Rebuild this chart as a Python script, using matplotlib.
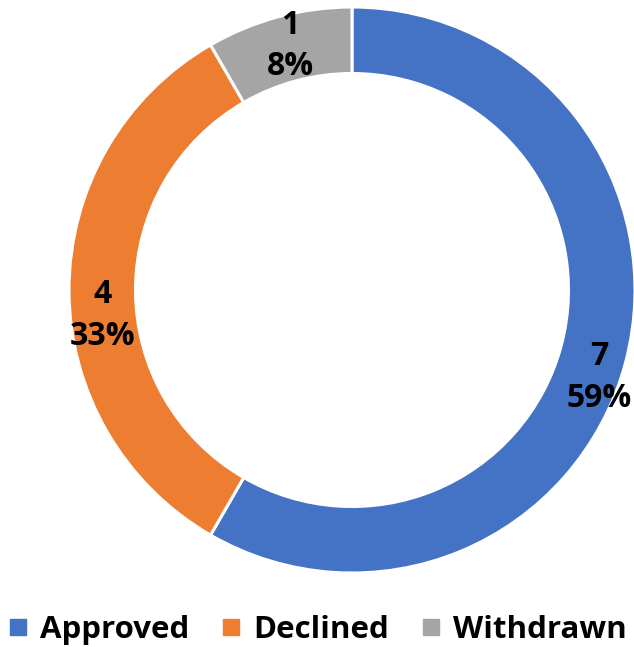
import matplotlib.pyplot as plt
from matplotlib.lines import Line2D
import numpy as np

# data
categories = ["Approved", "Declined", "Withdrawn"]
counts = [7, 4, 1]
pct_labels = ["59%", "33%", "8%"]
colors = ["#4472C4", "#ED7D31", "#A5A5A5"]

W, H = 634, 647
fig = plt.figure(figsize=(W / 100, H / 100), dpi=100)

# pie center ~ (352, 290) px, outer radius ~283 px
cx, cy, R = 352, 290, 283
ax = fig.add_axes([(cx - R) / W, (H - cy - R) / H, 2 * R / W, 2 * R / H])

ring = 0.235
wedges, _ = ax.pie(counts, colors=colors, startangle=90, counterclock=False,
                   radius=1.0,
                   wedgeprops=dict(width=ring, edgecolor="white", linewidth=2.2))
ax.set_xlim(-1, 1)
ax.set_ylim(-1, 1)
ax.set_aspect("equal")
ax.axis("off")

font = "Open Sans"
# small nudges (in axes units) to mimic Excel's label placement
nudges = [(0.02, -0.08), (0.0, -0.09), (0.01, 0.01)]
for w, n, p, (dx, dy) in zip(wedges, counts, pct_labels, nudges):
    ang = np.deg2rad((w.theta1 + w.theta2) / 2)
    r = 1 - ring / 2
    ax.text(r * np.cos(ang) + dx, r * np.sin(ang) + dy, f"{n}\n{p}",
            ha="center", va="center", fontsize=23, fontweight="bold",
            family=font, linespacing=1.35, color="black")

handles = [Line2D([], [], marker="s", linestyle="none", markersize=12,
                  markerfacecolor=c, markeredgecolor=c) for c in colors]
fig.legend(handles, categories, loc="lower center", bbox_to_anchor=(0.5, -0.04),
           ncol=3, frameon=False, handlelength=0.7, handletextpad=0.35,
           columnspacing=1.0,
           prop=dict(family=font, weight="bold", size=22.5))

fig.savefig("out.png", dpi=100)
